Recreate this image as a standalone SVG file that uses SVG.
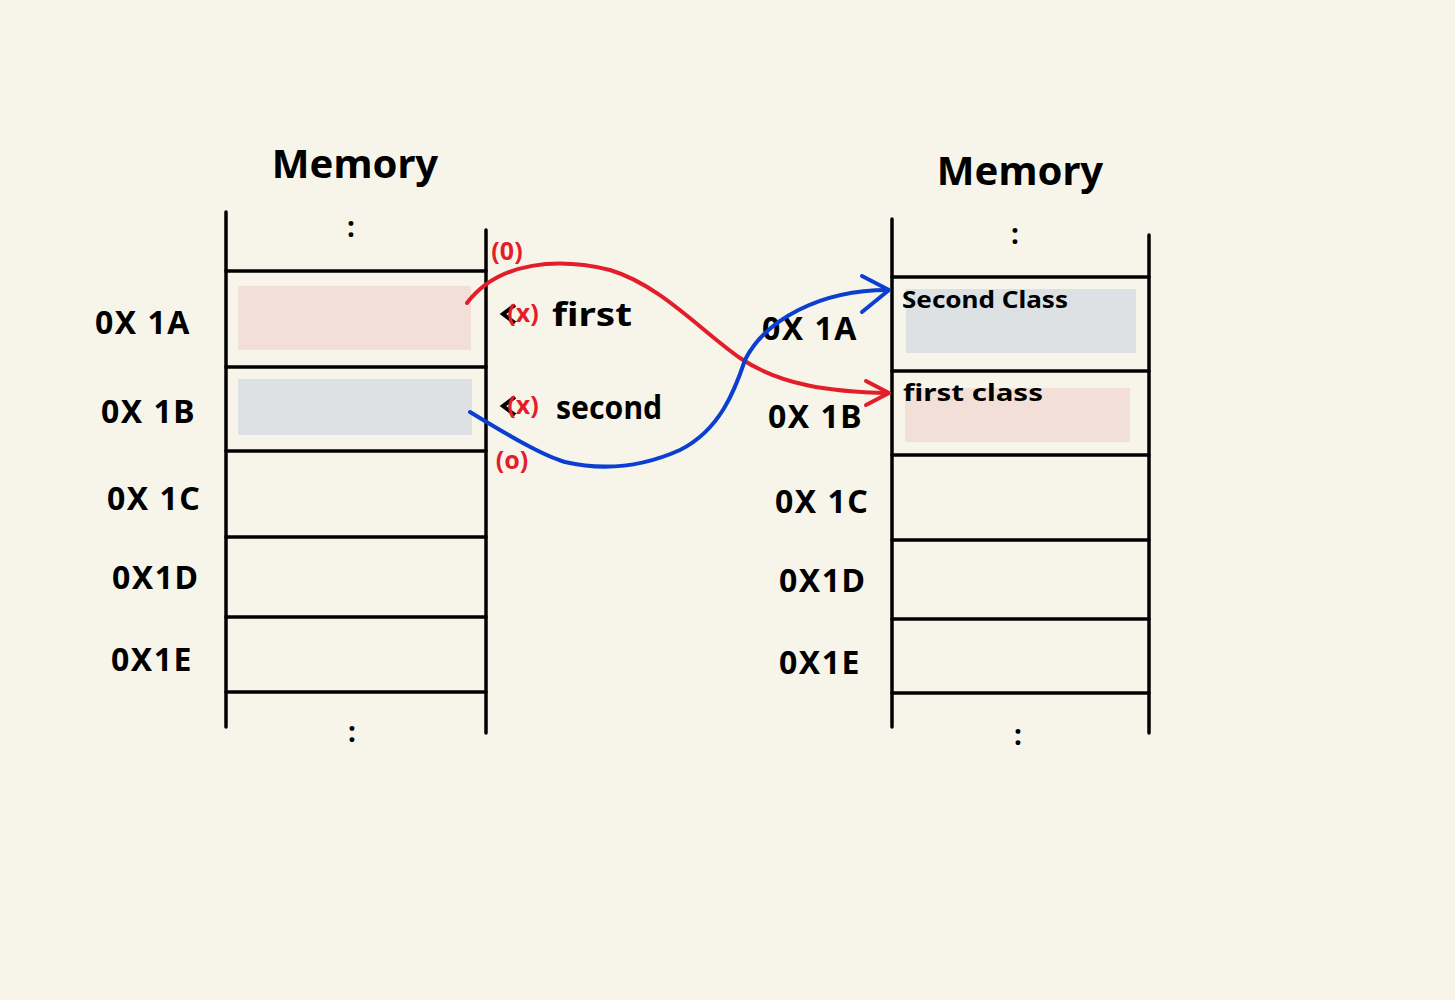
<svg xmlns="http://www.w3.org/2000/svg" width="1455" height="1000" viewBox="0 0 1455 1000">
<style>
.ln{stroke:#000;stroke-width:3.5;fill:none;stroke-linecap:round}
.t{font-family:"Noto Sans","Liberation Sans",sans-serif;font-weight:bold;fill:#000}
.title{font-size:40px;text-anchor:middle}
.addr{font-size:32px;letter-spacing:1.5px}
.lbl{font-size:23px}
.r{fill:#e31e2a;font-family:"Noto Sans","Liberation Sans",sans-serif;font-weight:bold;font-size:25px;text-anchor:middle}
.pink{fill:#f2e0d8}
.gray{fill:#dde1e3}
</style>
<rect width="1455" height="1000" fill="#f7f5ea"/>

<g id="memory-left">
<text class="t title" x="355" y="178">Memory</text>
<text class="t" x="351" y="237" font-size="28" text-anchor="middle">:</text>
<rect class="pink" x="238" y="286" width="233" height="64"/>
<rect class="gray" x="238" y="379" width="234" height="56"/>
<line class="ln" x1="226" y1="212" x2="226" y2="727"/>
<line class="ln" x1="486" y1="230" x2="486" y2="733"/>
<line class="ln" x1="226" y1="271" x2="486" y2="271"/>
<line class="ln" x1="226" y1="367" x2="486" y2="367"/>
<line class="ln" x1="226" y1="451" x2="486" y2="451"/>
<line class="ln" x1="226" y1="537" x2="486" y2="537"/>
<line class="ln" x1="226" y1="617" x2="486" y2="617"/>
<line class="ln" x1="226" y1="692" x2="486" y2="692"/>
<text class="t" x="352" y="742" font-size="28" text-anchor="middle">:</text>
</g>

<g id="addr-left">
<text class="t addr" x="95" y="334">0X 1A</text>
<text class="t addr" x="101" y="423">0X 1B</text>
<text class="t addr" x="107" y="510">0X 1C</text>
<text class="t addr" x="112" y="589">0X1D</text>
<text class="t addr" x="111" y="671" letter-spacing="4">0X1E</text>
</g>

<g id="memory-right">
<text class="t title" x="1020" y="185">Memory</text>
<text class="t" x="1015" y="244" font-size="28" text-anchor="middle">:</text>
<rect class="gray" x="906" y="289" width="230" height="64"/>
<rect class="pink" x="905" y="388" width="225" height="54"/>
<line class="ln" x1="892" y1="219" x2="892" y2="727"/>
<line class="ln" x1="1149" y1="235" x2="1149" y2="733"/>
<line class="ln" x1="892" y1="277" x2="1149" y2="277"/>
<line class="ln" x1="892" y1="371" x2="1149" y2="371"/>
<line class="ln" x1="892" y1="455" x2="1149" y2="455"/>
<line class="ln" x1="892" y1="540" x2="1149" y2="540"/>
<line class="ln" x1="892" y1="619" x2="1149" y2="619"/>
<line class="ln" x1="892" y1="693" x2="1149" y2="693"/>
<text class="t" x="1018" y="745" font-size="28" text-anchor="middle">:</text>
<text class="t lbl" x="902" y="308" textLength="166" lengthAdjust="spacingAndGlyphs">Second Class</text>
<text class="t lbl" x="903" y="401" textLength="140" lengthAdjust="spacingAndGlyphs">first class</text>
</g>

<g id="addr-right">
<text class="t addr" x="762" y="340">0X 1A</text>
<text class="t addr" x="768" y="428">0X 1B</text>
<text class="t addr" x="775" y="513">0X 1C</text>
<text class="t addr" x="779" y="592">0X1D</text>
<text class="t addr" x="779" y="674" letter-spacing="4">0X1E</text>
</g>

<g id="variables">
<text class="t" x="552" y="326" font-size="32" textLength="80" lengthAdjust="spacingAndGlyphs">first</text>
<text class="t" x="556" y="419" font-size="32" textLength="106" lengthAdjust="spacingAndGlyphs">second</text>
<path d="M515 305 L503 314 L515 323" fill="none" stroke="#000" stroke-width="4"/>
<path d="M515 397 L503 406 L515 415" fill="none" stroke="#000" stroke-width="4"/>
<text class="r" x="523" y="322">(x)</text>
<text class="r" x="523" y="414">(x)</text>
<text class="r" x="507" y="260">(0)</text>
<text class="r" x="512" y="469">(o)</text>
</g>

<g id="connectors" fill="none" stroke-linecap="round" stroke-linejoin="round" stroke-width="4">
<path d="M467 303 C500 260 560 258 610 270 C660 285 700 330 740 358 C780 385 830 392 888 393" stroke="#e31e2a"/>
<path d="M866 381 L889 393 L866 405" stroke="#e31e2a"/>
<path d="M470 412 C500 430 540 455 565 462 C600 470 640 468 680 450 C720 430 735 390 745 360 C765 320 820 290 888 290" stroke="#0b3fd1"/>
<path d="M862 276 L889 290 L862 312" stroke="#0b3fd1"/>
</g>
</svg>
